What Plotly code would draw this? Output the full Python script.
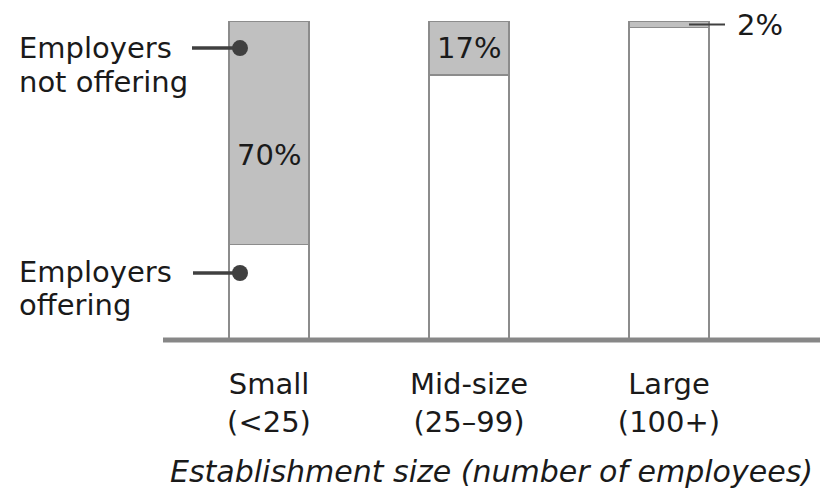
import plotly.graph_objects as go

categories = ["Small<br>(<25)", "Mid-size<br>(25–99)", "Large<br>(100+)"]
offering = [30, 83, 98]
not_offering = [70, 17, 2]
pct_labels = ["70%", "17%", "2%"]

FONT = "DejaVu Sans"
TXT = "#1a1a1a"
FS = 29
x = [0, 1, 2]

fig = go.Figure()
fig.add_bar(x=x, y=offering, width=0.4, marker=dict(color="white", line=dict(color="#8c8c8c", width=1.5)),
            showlegend=False, hoverinfo="skip")
fig.add_bar(x=x, y=not_offering, width=0.4, marker=dict(color="#c0c0c0", line=dict(color="#8c8c8c", width=1.5)),
            showlegend=False, hoverinfo="skip")

# connector dots
fig.add_trace(go.Scatter(x=[-0.145, -0.145], y=[91.5, 21], mode="markers",
                         marker=dict(size=16, color="#404040"), showlegend=False, hoverinfo="skip"))

shapes = [
    dict(type="line", xref="paper", yref="paper", x0=0, x1=1, y0=0, y1=0, line=dict(color="#878787", width=5)),
    dict(type="line", xref="x", yref="y", x0=-0.385, x1=-0.145, y0=91.5, y1=91.5, line=dict(color="#404040", width=3.5)),
    dict(type="line", xref="x", yref="y", x0=-0.38, x1=-0.145, y0=21, y1=21, line=dict(color="#404040", width=3.5)),
    dict(type="line", xref="x", yref="y", x0=2.1, x1=2.28, y0=98.9, y1=98.9, line=dict(color="#404040", width=2)),
]

left_lines = [("Employers", 91.5), ("not offering", 80.9), ("Employers", 21.3), ("offering", 11.0)]
annotations = [
    dict(xref="paper", yref="y", x=-0.2222, y=yy, xanchor="left", yanchor="middle", align="left",
         text=t, showarrow=False, font=dict(family=FONT, size=FS, color=TXT))
    for t, yy in left_lines
]
annotations += [
    dict(xref="x", yref="y", x=x[0], y=58, text=pct_labels[0], showarrow=False,
         font=dict(family=FONT, size=FS, color=TXT)),
    dict(xref="x", yref="y", x=x[1], y=offering[1] + not_offering[1] / 2, text=pct_labels[1], showarrow=False,
         font=dict(family=FONT, size=FS, color=TXT)),
    dict(xref="x", yref="y", x=2.33, y=98.9, xanchor="left", text=pct_labels[2], showarrow=False,
         font=dict(family=FONT, size=FS, color=TXT)),
]

fig.update_layout(
    barmode="stack",
    width=820, height=495,
    margin=dict(l=163, r=0, t=21, b=155),
    paper_bgcolor="white", plot_bgcolor="white",
    shapes=shapes, annotations=annotations,
    xaxis=dict(range=[-0.53, 2.755], tickvals=x, ticktext=categories, showgrid=False, zeroline=False,
               showline=False, ticks="", ticklabelstandoff=24, tickfont=dict(family=FONT, size=FS, color=TXT),
               title=dict(text="<i>Establishment size (number of employees)</i>",
                          font=dict(family=FONT, size=30, color=TXT), standoff=23)),
    yaxis=dict(range=[0, 100], visible=False),
)

fig.write_html("out.html")
